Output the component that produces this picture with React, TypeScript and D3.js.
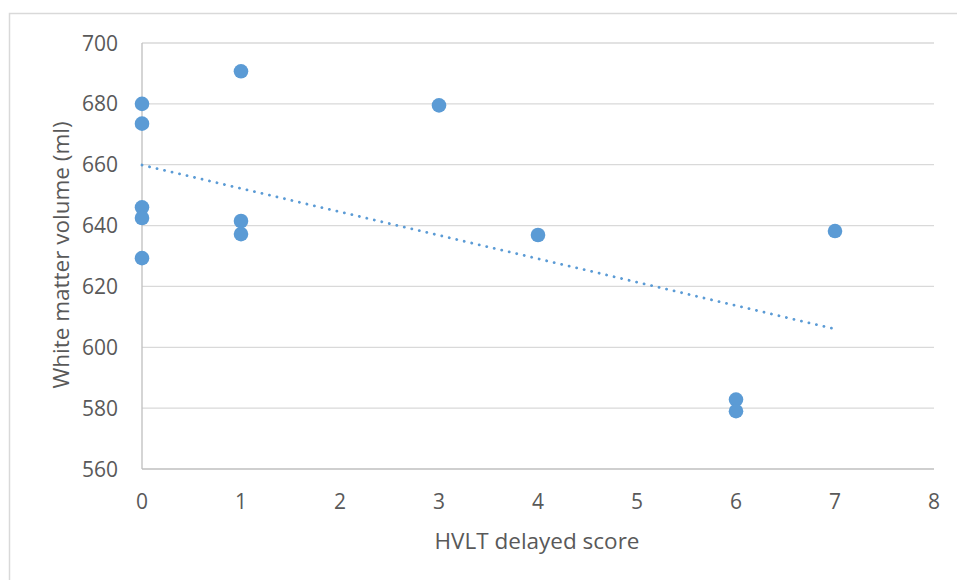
import React from "react";
import * as d3 from "d3";

const xValues = [0, 0, 0, 0, 0, 1, 1, 1, 3, 4, 6, 6, 7];
const yValues = [680, 673.5, 646, 642.5, 629.3, 690.7, 641.5, 637.2, 679.5, 636.9, 582.8, 579, 638.2];
const trendX = [0, 7];
const trendY = [659.9, 606];
const xTicks = [0, 1, 2, 3, 4, 5, 6, 7, 8];
const yTicks = [560, 580, 600, 620, 640, 660, 680, 700];
const xTitle = "HVLT delayed score";
const yTitle = "White matter volume (ml)";

export default function App() {
  const W = 957, H = 580;
  const x = d3.scaleLinear().domain([0, 8]).range([142, 934]);
  const y = d3.scaleLinear().domain([560, 700]).range([469, 43]);
  const font = "'Open Sans', sans-serif";
  const line = d3.line<number>().x((_, i) => x(trendX[i])).y((d) => y(d));
  return (
    <svg width={W} height={H} style={{ position: "absolute", left: 0, top: 0, background: "#fff" }}>
      <rect x={9.5} y={13.5} width={W} height={H} fill="#fff" stroke="#d9d9d9" strokeWidth={1.5} />
      {yTicks.map((t) => (
        <line key={"g" + t} x1={x(0)} x2={x(8)} y1={y(t)} y2={y(t)} stroke={t === 560 ? "#bfbfbf" : "#d9d9d9"} strokeWidth={1.3} />
      ))}
      <line x1={x(0)} x2={x(0)} y1={y(700)} y2={y(560)} stroke="#bfbfbf" strokeWidth={1.3} />
      {yTicks.map((t) => (
        <text key={"y" + t} x={118} y={y(t)} dy="0.36em" textAnchor="end" fontFamily={font} fontSize={21} fill="#595959">{t}</text>
      ))}
      {xTicks.map((t) => (
        <text key={"x" + t} x={x(t)} y={509} textAnchor="middle" fontFamily={font} fontSize={21} fill="#595959">{t}</text>
      ))}
      <text x={537} y={549} textAnchor="middle" fontFamily={font} fontSize={22.5} fill="#595959">{xTitle}</text>
      <text transform={`translate(69,255) rotate(-90)`} textAnchor="middle" fontFamily={font} fontSize={22.5} fill="#595959">{yTitle}</text>
      <path d={line(trendY) || ""} fill="none" stroke="#5b9bd5" strokeWidth={2.8} strokeDasharray="0.1 7.6" strokeLinecap="round" />
      {xValues.map((v, i) => (
        <circle key={i} cx={x(v)} cy={y(yValues[i])} r={7.3} fill="#5b9bd5" />
      ))}
    </svg>
  );
}
